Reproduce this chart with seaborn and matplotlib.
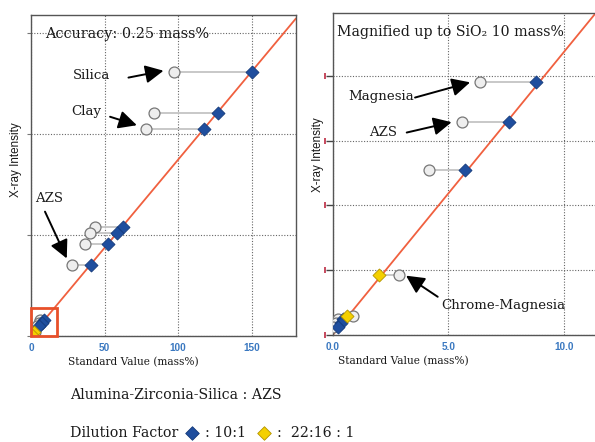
import matplotlib
matplotlib.use("Agg")
import matplotlib.pyplot as plt
import matplotlib.transforms as mtransforms
from matplotlib import font_manager
from matplotlib.patches import Rectangle
import pandas as pd
import seaborn as sns

# Reference samples: standard value (mass%), value before correction,
# X-ray intensity and dilution factor of each bead
sample = ["Silica", "Clay", "Clay", "AZS", "AZS", "AZS", "AZS",
          "Magnesia", "AZS", "AZS", "Chrome-Magnesia",
          "Chrome-Magnesia", "Low", "Low", "Low"]
standard = [150.0, 127.2, 117.7, 62.8, 58.3, 52.6, 40.6,
            8.78, 7.64, 5.71, 2.01, 0.60, 0.46, 0.35, 0.24]
uncorrected = [97.3, 83.7, 78.2, 43.5, 40.1, 36.9, 28.1,
               6.38, 5.60, 4.18, 2.87, 0.89, 0.24, 0.14, 0.03]
intensity = [65.3, 55.2, 51.2, 27.0, 25.4, 22.9, 17.6,
             3.91, 3.285, 2.548, 0.927, 0.293, 0.25, 0.18, 0.12]
dilution = ["10:1"] * 10 + ["22:16:1", "22:16:1"] + ["10:1"] * 3

# Calibration line (intensity per mass%)
cal_slope = 0.437

# Axis setup of the full-range and magnified panels
full_xticks = [0, 50, 100, 150]
full_xlabels = ["0", "50", "100", "150"]
full_yticks = [0, 25, 50, 75]
full_xlim = (0, 180)
full_ylim = (0, 79.5)
zoom_xticks = [0, 5, 10]
zoom_xlabels = ["0.0", "5.0", "10.0"]
zoom_yticks = [0, 1, 2, 3, 4]
zoom_xlim = (0, 11.34)
zoom_ylim = (0, 4.97)
zoom_box = (17.5, 7.0)   # extent of the magnified region shown on the left

df = pd.DataFrame({"sample": sample, "standard": standard,
                   "uncorrected": uncorrected, "intensity": intensity,
                   "dilution": dilution})

sns.set_style("white")
names = {f.name for f in font_manager.fontManager.ttflist}
SANS = "Liberation Sans Narrow" if "Liberation Sans Narrow" in names else "Liberation Sans"
SANS_SIZE = 9.5 if SANS == "Liberation Sans Narrow" else 8.4
SERIF = "DejaVu Serif"
plt.rcParams["font.family"] = [SERIF, "DejaVu Sans"]

DIAMOND = {"10:1": "#1f4e9e", "22:16:1": "#f4d000"}
DIAMOND_EDGE = {"10:1": "#143a7a", "22:16:1": "#b39400"}
TICK_BLUE = "#3a78c0"
LINE_RED = "#f0603f"
SPINE = "#555555"
TEXT = "#1a1a1a"

W, H = 595, 442
fig = plt.figure(figsize=(W / 100, H / 100), dpi=100)
ax_full = fig.add_axes([31 / W, (H - 336) / H, 265 / W, 321 / H])
ax_zoom = fig.add_axes([332.7 / W, (H - 335) / H, (W - 332.7) / W, 322 / H])


def draw_panel(ax, xlim, ylim, xticks, xlabels, yticks):
    ax.set_xticks(xticks)
    ax.set_xticklabels(xlabels)
    ax.set_yticks(yticks)
    ax.set_yticklabels([])
    # dotted grid
    ax.grid(True, linestyle=(0, (1, 1.5)), color="#666666", linewidth=0.8)
    ax.set_axisbelow(True)
    # calibration line
    xs = [0, xlim[1]]
    sns.lineplot(x=xs, y=[cal_slope * v for v in xs], ax=ax, color=LINE_RED,
                 linewidth=1.3, zorder=2, legend=False)
    # connectors between uncorrected and corrected values
    ax.hlines(df["intensity"], df["uncorrected"], df["standard"],
              color="#c4c4c4", linewidth=1.3, zorder=3)
    sns.scatterplot(data=df, x="uncorrected", y="intensity", ax=ax,
                    marker="o", s=62, color="#eeeeee", edgecolor="#777777",
                    linewidth=0.9, zorder=4, legend=False)
    for fac in ["10:1", "22:16:1"]:
        sub = df[df["dilution"] == fac]
        sns.scatterplot(data=sub, x="standard", y="intensity", ax=ax,
                        marker="D", s=44, color=DIAMOND[fac],
                        edgecolor=DIAMOND_EDGE[fac], linewidth=0.6,
                        zorder=5, legend=False)
    ax.set_xlim(*xlim)
    ax.set_ylim(*ylim)
    ax.set_xlabel("")
    ax.set_ylabel("")
    for sp in ax.spines.values():
        sp.set_color(SPINE)
        sp.set_linewidth(1.0)
    ax.tick_params(axis="x", bottom=False, length=0, pad=5, labelsize=7.2,
                   labelcolor=TICK_BLUE)
    for lab in ax.get_xticklabels():
        lab.set_family(SANS)
        lab.set_fontweight("bold")


draw_panel(ax_full, full_xlim, full_ylim, full_xticks, full_xlabels,
           full_yticks)
draw_panel(ax_zoom, zoom_xlim, zoom_ylim, zoom_xticks, zoom_xlabels,
           zoom_yticks)

ax_full.tick_params(axis="y", left=True, direction="out", length=3.2,
                    width=0.8, color="#777777")
ax_zoom.tick_params(axis="y", left=True, direction="out", length=5.4,
                    width=1.0, color="#444444")
ax_zoom.spines["right"].set_visible(False)

# small end caps on the magnified panel's intensity ticks
cap_tr = mtransforms.blended_transform_factory(ax_zoom.transAxes, ax_zoom.transData)
ax_zoom.plot([-0.029] * len(zoom_yticks), zoom_yticks, linestyle="none",
             marker="|", markersize=5, color="#c23a50", markeredgewidth=1.3,
             transform=cap_tr, clip_on=False)

# magnified region outline
ax_full.add_patch(Rectangle((0, 0), zoom_box[0], zoom_box[1], fill=False,
                            edgecolor="#e8502a", linewidth=2.0, zorder=6,
                            clip_on=False))

# axis titles
for ax, xc, yc in [(ax_full, 0.385, 0.548), (ax_zoom, 0.268, 0.559)]:
    ax.text(-0.057, yc, "X-ray Intensity", rotation=90, ha="center",
            va="center", transform=ax.transAxes, family=SANS,
            fontsize=SANS_SIZE, color=TEXT)
    ax.text(xc, -0.081, "Standard Value (mass%)", ha="center", va="center",
            transform=ax.transAxes, fontsize=7.6, color=TEXT)

# panel captions
ax_full.text(0.053, 0.94, "Accuracy: 0.25 mass%", transform=ax_full.transAxes,
             ha="left", va="center", fontsize=10.4, color=TEXT)
ax_zoom.text(0.016, 0.94, "Magnified up to SiO\u2082 10 mass%",
             transform=ax_zoom.transAxes, ha="left", va="center",
             fontsize=10.2, color=TEXT)

arrow = dict(arrowstyle="-|>,head_length=1.1,head_width=0.55",
             color="black", linewidth=1.4, shrinkA=0, shrinkB=0)


def label_arrow(ax, text, text_xy, tail, tip):
    ax.text(text_xy[0], text_xy[1], text, ha="center", va="center",
            fontsize=9.6, color=TEXT, zorder=7)
    ax.annotate("", xy=tip, xytext=tail, arrowprops=arrow, zorder=7)


label_arrow(ax_full, "Silica", (40.8, 64.4), (66.2, 64.0), (90.0, 65.7))
label_arrow(ax_full, "Clay", (37.4, 55.5), (53.7, 54.3), (71.9, 52.2))
label_arrow(ax_full, "AZS", (12.2, 34.1), (9.5, 30.8), (24.3, 19.2))
label_arrow(ax_zoom, "Magnesia", (2.08, 3.68), (3.56, 3.665), (5.94, 3.90))
label_arrow(ax_zoom, "AZS", (2.19, 3.12), (3.20, 3.125), (5.14, 3.285))
label_arrow(ax_zoom, "Chrome-Magnesia", (7.38, 0.448), (4.54, 0.59), (3.17, 0.916))

# key below the panels
fig.text(70 / W, 1 - 395 / H, "Alumina-Zirconia-Silica : AZS",
         ha="left", va="center", fontsize=10.2, color=TEXT)
fig.text(70 / W, 1 - 433 / H, "Dilution Factor", ha="left", va="center",
         fontsize=10.2, color=TEXT)
fig.text(205 / W, 1 - 433 / H, ": 10:1", ha="left", va="center",
         fontsize=10.2, color=TEXT)
fig.text(277 / W, 1 - 433 / H, ":  22:16 : 1", ha="left", va="center",
         fontsize=10.2, color=TEXT)
key_ax = fig.add_axes([0, 0, 1, 1], facecolor="none")
key_ax.set_xlim(0, W)
key_ax.set_ylim(H, 0)
key_ax.axis("off")
for fac, kx in [("10:1", 192), ("22:16:1", 264)]:
    key_ax.scatter([kx], [433], marker="D", s=48, color=DIAMOND[fac],
                   edgecolor=DIAMOND_EDGE[fac], linewidth=0.6)

fig.savefig("out.png", dpi=100)
